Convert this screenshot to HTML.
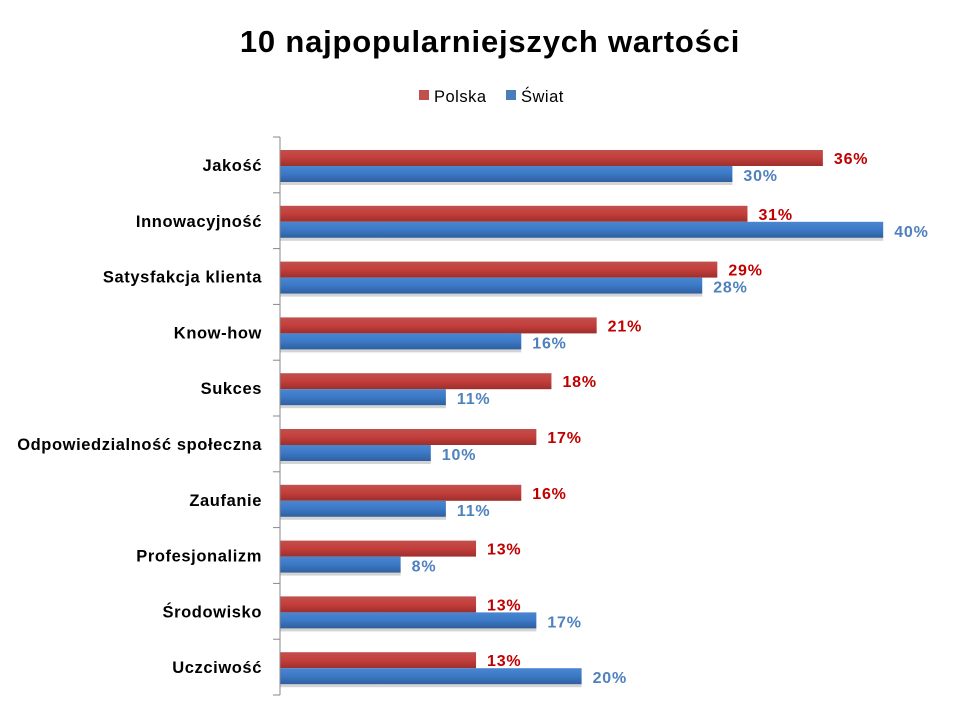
<!DOCTYPE html>
<html><head><meta charset="utf-8"><style>
body{margin:0;background:#fff;font-family:"Liberation Sans",sans-serif;}
svg text{font-family:"Liberation Sans",sans-serif;}
</style></head><body>
<svg width="980" height="718" viewBox="0 0 980 718" id="chart">
<defs>
<linearGradient id="gr" x1="0" y1="0" x2="0" y2="1"><stop offset="0" stop-color="#c0504d"/><stop offset="0.5" stop-color="#c43e3b"/><stop offset="1" stop-color="#9c2f2d"/></linearGradient>
<linearGradient id="gb" x1="0" y1="0" x2="0" y2="1"><stop offset="0" stop-color="#4a86d0"/><stop offset="0.5" stop-color="#3b78c6"/><stop offset="1" stop-color="#2f5f9e"/></linearGradient>
</defs>
<text x="490" y="52" text-anchor="middle" font-size="31" font-weight="bold" fill="#000" letter-spacing="0.8">10 najpopularniejszych wartości</text>
<g>
<rect x="419" y="90" width="10" height="10" fill="#c0504d"/>
<text x="434" y="102" font-size="16.5" letter-spacing="0.5" fill="#000">Polska</text>
<rect x="506" y="90" width="10" height="10" fill="#4a7ebb"/>
<text x="521" y="102" font-size="16.5" letter-spacing="0.5" fill="#000">Świat</text>
</g>
<g id="plot"></g>
</svg>
<script>
const categories=["Jakość","Innowacyjność","Satysfakcja klienta","Know-how","Sukces","Odpowiedzialność społeczna","Zaufanie","Profesjonalizm","Środowisko","Uczciwość"];
const polska=[36,31,29,21,18,17,16,13,13,13];
const swiat=[30,40,28,16,11,10,11,8,17,20];
const ns="http://www.w3.org/2000/svg";
const g=document.getElementById('plot');
const x0=280,pxPer=15.08,top0=137,band=55.8;
const xS=v=>x0+v*pxPer;
const yB=i=>top0+i*band;
function mk(t,a){const e=document.createElementNS(ns,t);for(const k in a)e.setAttribute(k,a[k]);g.appendChild(e);return e;}
categories.forEach((c,i)=>{
 const y=yB(i);
 let t=mk('line',{x1:273,x2:x0,y1:y,y2:y,stroke:'#888'});
 
 
 let sh=mk('rect',{x:x0,y:y+45,width:xS(swiat[i])-x0,height:3,fill:'#d4d4d4'});
 
 
 let r=mk('rect',{x:x0,y:y+13,width:xS(polska[i])-x0,height:16,fill:'url(#gr)'});
 
 
 let b=mk('rect',{x:x0,y:y+29,width:xS(swiat[i])-x0,height:16,fill:'url(#gb)'});
 
 
 let lp=mk('text',{x:xS(polska[i])+11,y:y+27,'font-size':16,'letter-spacing':0.8,'font-weight':'bold',fill:'#c00000'});
 lp.textContent=polska[i]+'%';
 
 
 let ls=mk('text',{x:xS(swiat[i])+11,y:y+44,'font-size':16,'letter-spacing':0.8,'font-weight':'bold',fill:'#4f81bd'});
 ls.textContent=swiat[i]+'%';
 
 
 let cl=mk('text',{x:262,y:y+34,'text-anchor':'end','font-size':16.5,'letter-spacing':0.6,'font-weight':'bold',fill:'#000'});
 cl.textContent=c;
 
 
});
const last=yB(categories.length);
let tl=mk('line',{x1:273,x2:x0,y1:last,y2:last,stroke:'#888'});


let ax=mk('line',{x1:x0,x2:x0,y1:top0,y2:last,stroke:'#888'});


</script>
</body></html>
